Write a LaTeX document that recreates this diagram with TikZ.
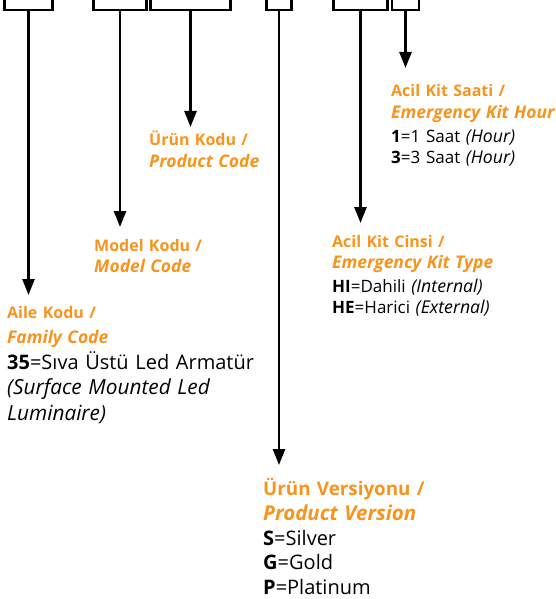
\documentclass[tikz,border=0pt]{standalone}
\usepackage{fontspec}
\setmainfont{Open Sans}[Ligatures=NoCommon, BoldItalicFeatures={Scale=1.09}, ItalicFeatures={Scale=1.04}]
\usetikzlibrary{arrows.meta}
\definecolor{codeorange}{RGB}{247,148,30}

\tikzset{
  codebox/.style={draw, line width=2.5pt, minimum height=30pt, inner sep=0pt},
  codearrow/.style={line width=2.5pt, -{Triangle[length=16pt,width=12pt]}},
  headtext/.style={anchor=base west, inner sep=0pt, text width=200pt, align=left,
    text=codeorange, font=\bfseries\fontsize{16}{21.5}\selectfont},
  bodytext/.style={anchor=base west, inner sep=0pt, text width=260pt, align=left,
    font=\fontsize{17}{21.5}\selectfont},
  bighead/.style={headtext, font=\bfseries\fontsize{18.8}{25}\selectfont},
  bigbody/.style={bodytext, font=\fontsize{20}{25.5}\selectfont}
}

\begin{document}
\begin{tikzpicture}[x=1pt,y=-1pt]
  \useasboundingbox (0,0) rectangle (556,599);

  % code boxes along the top
  \node[codebox, minimum width=48pt] (famBox) at (28.5,-5) {};
  \node[codebox, minimum width=53pt] (modelBox) at (120,-5) {};
  \node[codebox, minimum width=80pt] (prodBox) at (190.5,-5) {};
  \node[codebox, minimum width=25pt] (versBox) at (279,-5) {};
  \node[codebox, minimum width=54pt] (typeBox) at (360.5,-5) {};
  \node[codebox, minimum width=27pt] (hourBox) at (405.5,-5) {};

  \coordinate (famTip) at (28.5,295);
  \coordinate (modelTip) at (120,227);
  \coordinate (prodTip) at (190.5,127);
  \coordinate (versTip) at (279,465);
  \coordinate (typeTip) at (360.5,223);
  \coordinate (hourTip) at (405.5,68);

  \draw[codearrow] (famBox.south) -- (famTip);
  \draw[codearrow] (modelBox.south) -- (modelTip);
  \draw[codearrow] (prodBox.south) -- (prodTip);
  \draw[codearrow] (versBox.south) -- (versTip);
  \draw[codearrow] (typeBox.south) -- (typeTip);
  \draw[codearrow] (hourBox.south) -- (hourTip);

  % labels
  \node[headtext, font=\bfseries\fontsize{16}{25}\selectfont] (famHead) at (7,318)
    {Aile Kodu /\\\textit{Family Code}};
  \node[bigbody, font=\fontsize{20}{25.5}\selectfont] (famBody) at (7,369)
    {\textbf{35}=Sıva Üstü Led Armatür\\\textit{(Surface Mounted Led}\\\textit{Luminaire)}};

  \node[headtext] (modelHead) at (94,251) {Model Kodu /\\\textit{Model Code}};
  \node[headtext] (prodHead) at (149,146) {Ürün Kodu /\\\textit{Product Code}};

  \node[headtext] (hourHead) at (391,97) {Acil Kit Saati /\\\textit{Emergency Kit Hour}};
  \node[bodytext] (hourBody) at (391,142)
    {\textbf{1}=1 Saat \textit{(Hour)}\\\textbf{3}=3 Saat \textit{(Hour)}};

  \node[headtext] (typeHead) at (332,247) {Acil Kit Cinsi /\\\textit{Emergency Kit Type}};
  \node[bodytext] (typeBody) at (332,292)
    {\textbf{HI}=Dahili \textit{(Internal)}\\\textbf{HE}=Harici \textit{(External)}};

  \node[bighead] (versHead) at (263,495) {Ürün Versiyonu /\\\textit{Product Version}};
  \node[bigbody, font=\fontsize{20}{24.5}\selectfont] (versBody) at (263,545)
    {\textbf{S}=Silver\\\textbf{G}=Gold\\\textbf{P}=Platinum};
\end{tikzpicture}
\end{document}
